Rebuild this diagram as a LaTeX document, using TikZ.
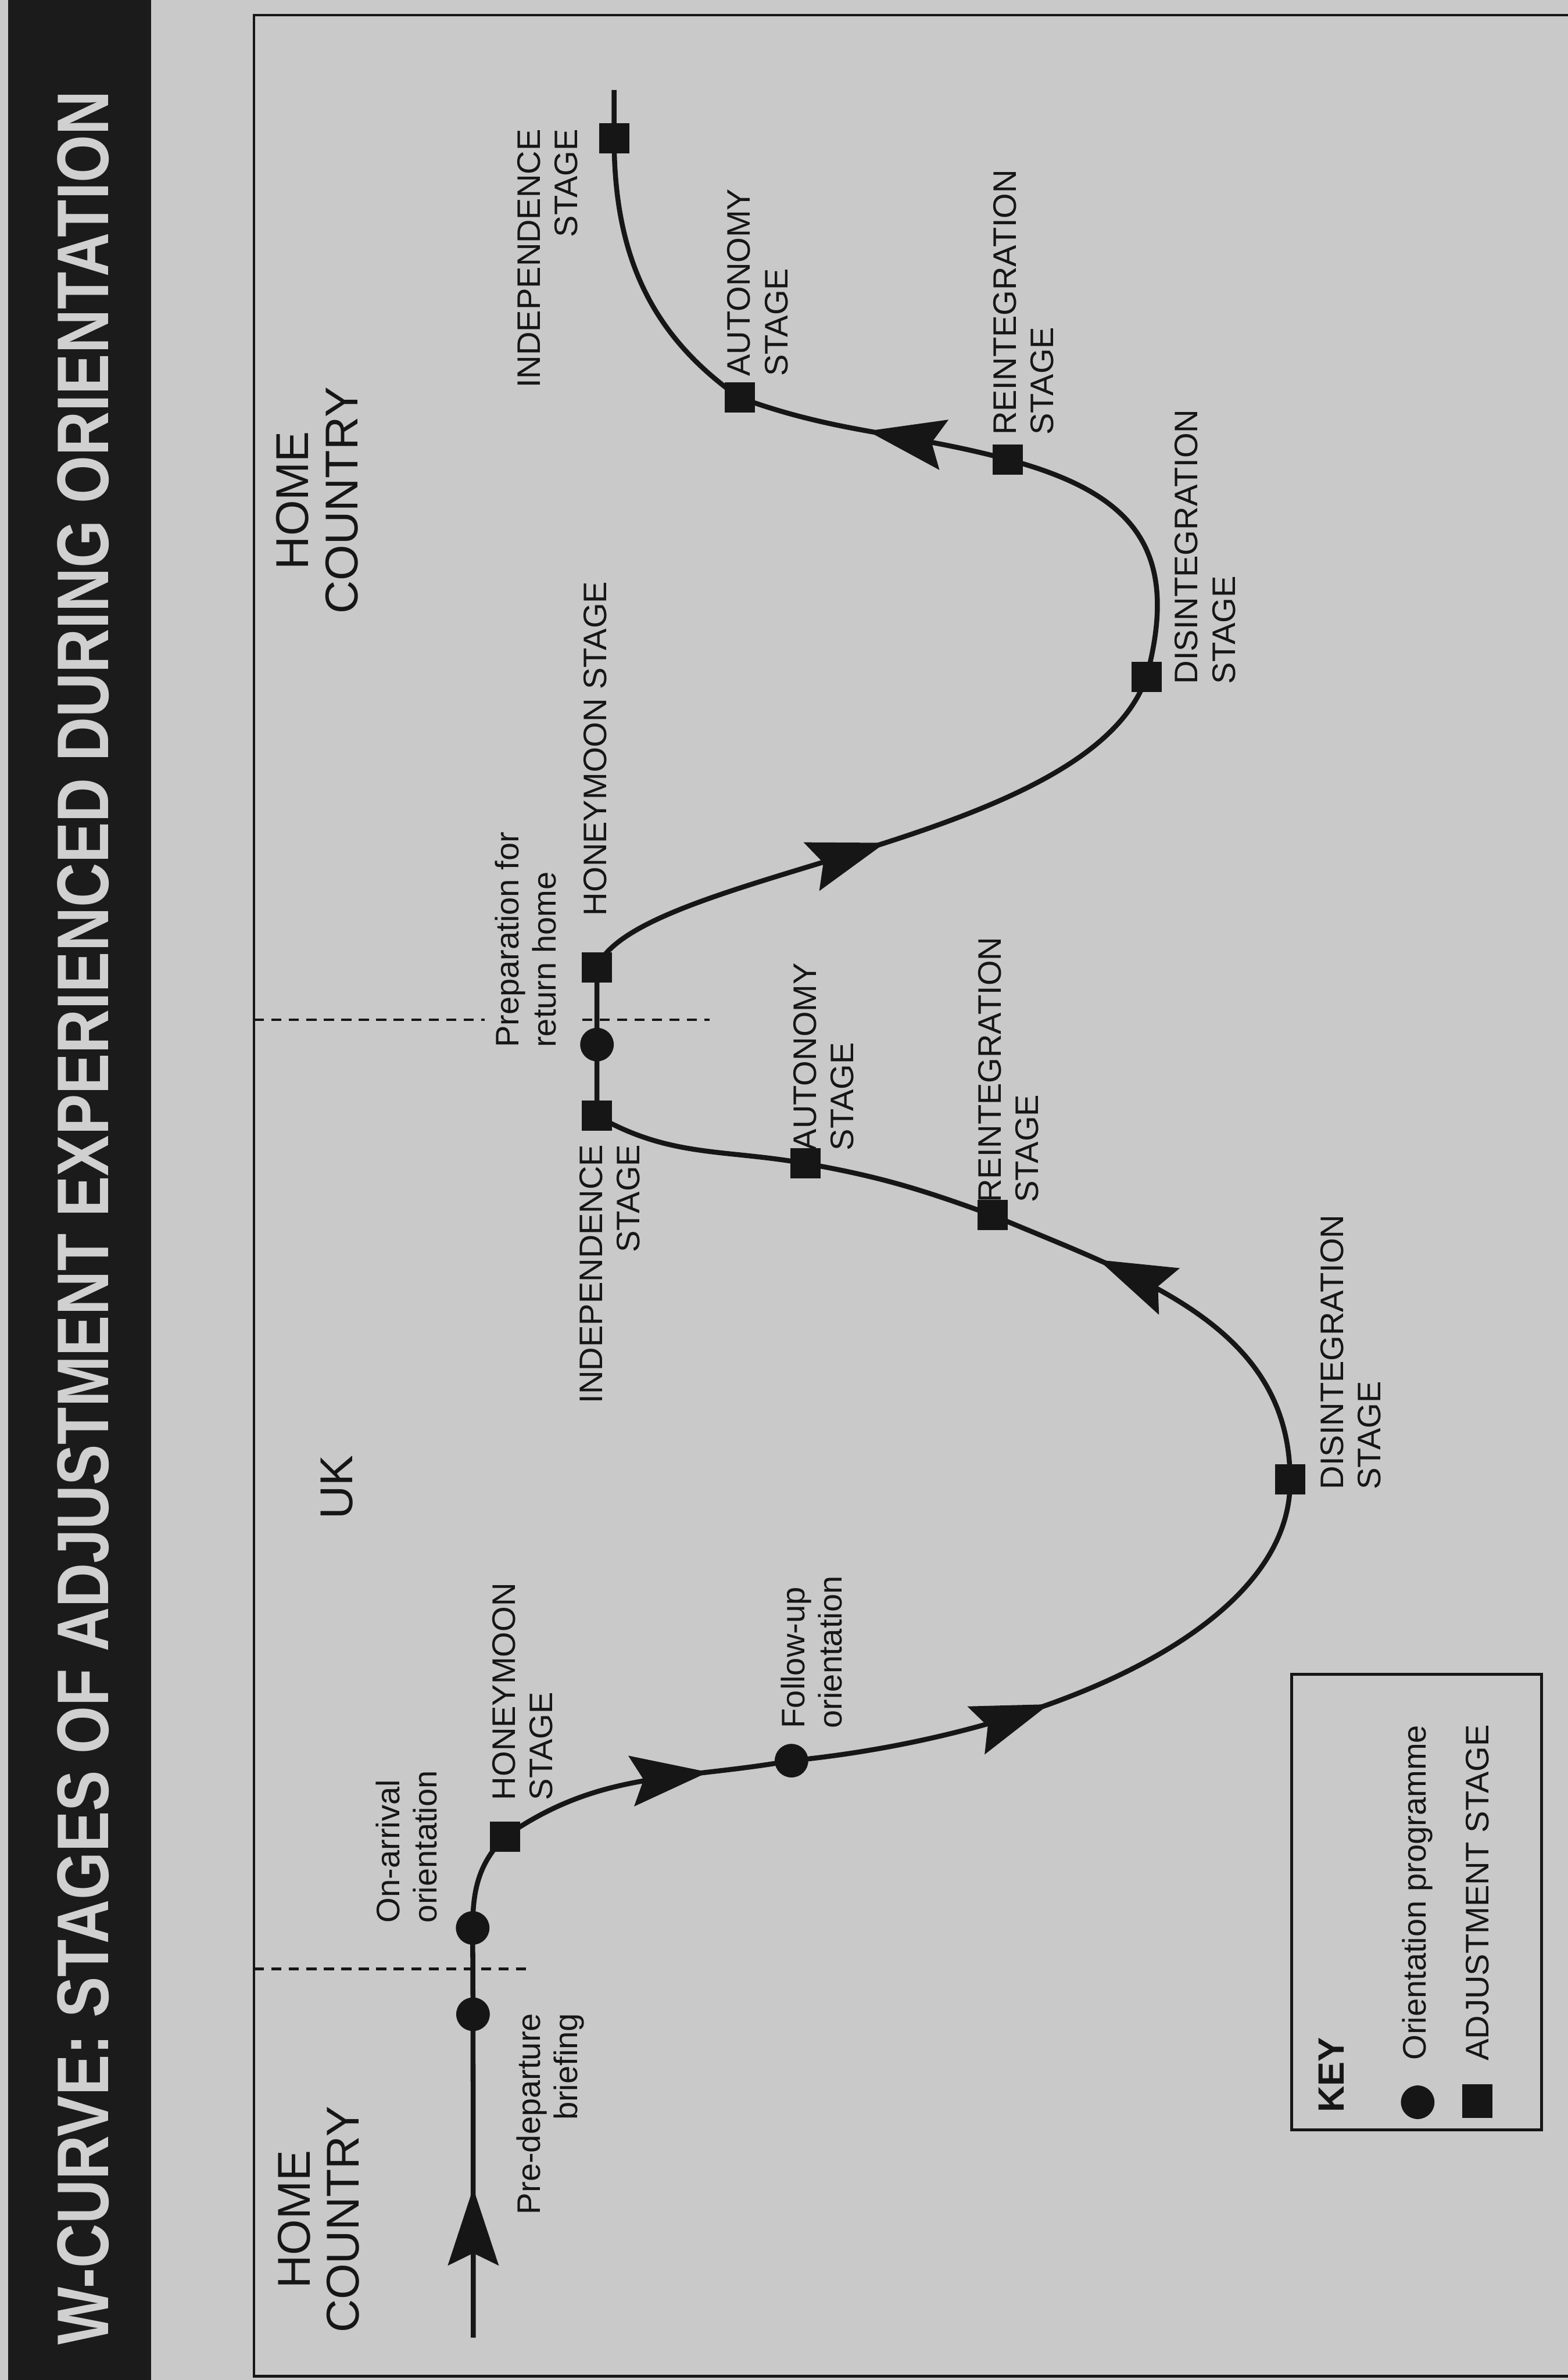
\documentclass[tikz,border=0pt]{standalone}
\usepackage{fontspec}
\setmainfont{Liberation Sans}
\usepackage{xcolor}
\usepackage{graphicx}
\usepackage{tikz}
\usetikzlibrary{arrows.meta,decorations.markings,positioning}

\definecolor{paper}{HTML}{C9C9C9}
\definecolor{ink}{HTML}{161616}
\definecolor{band}{HTML}{1B1B1B}
\definecolor{titleink}{HTML}{D0D0D0}

\begin{document}
\begin{tikzpicture}[>={Stealth[length=11.5mm,width=7.5mm,inset=1.8mm]},
  curve/.style={color=ink, line width=2.1pt},
  dot/.style={circle, fill=ink, inner sep=0pt, minimum size=5mm},
  stagebox/.style={rectangle, fill=ink, inner sep=0pt, minimum size=4.5mm},
  lbl/.style={rotate=90, inner sep=0pt, align=left, text=ink, font=\fontsize{13.8}{15.8}\selectfont},
  region/.style={rotate=90, inner sep=0pt, align=center, text=ink, font=\fontsize{19.5}{20.8}\selectfont},
  divide/.style={draw=ink, line width=1.1pt, dash pattern=on 1.5mm off 1.1mm},
  midarrow/.style={postaction={decorate}, decoration={markings, mark=at position #1 with {\arrow{>}}}}]

% page, title band and frame
\path[use as bounding box, fill=paper] (0,0) rectangle (23.335,-35.43);
\fill[band] (0.12,0) rectangle (2.25,-35.43);
\node[rotate=90, inner sep=0pt, text=titleink] (title) at (1.24,-18.13)
  {\resizebox{33.55cm}{0.76cm}{\bfseries W-CURVE: STAGES OF ADJUSTMENT EXPERIENCED DURING ORIENTATION}};
\draw[ink, line width=1.2pt] (23.335,-0.225) -- (3.78,-0.225) -- (3.78,-35.37) -- (23.335,-35.37);

% regions
\node[region] (home1) at (4.74,-33.04) {HOME\\COUNTRY};
\node[region] (uk) at (5.01,-22.14) {UK};
\node[region] (home2) at (4.72,-7.45) {HOME\\COUNTRY};

% border crossings
\coordinate (cut1w) at (3.78,-29.31);
\coordinate (cut1e) at (7.925,-29.31);
\coordinate (cut2w) at (3.78,-15.18);
\coordinate (cut2m) at (7.215,-15.18);
\coordinate (cut2n) at (8.665,-15.18);
\coordinate (cut2e) at (10.56,-15.18);
\draw[divide] (cut1w) -- (cut1e);
\draw[divide] (cut2w) -- (cut2m);
\draw[divide] (cut2n) -- (cut2e);

% orientation programmes and adjustment stages
\coordinate (start) at (7.045,-34.80);
\node[dot] (pd) at (7.04,-29.985) {};
\node[dot] (oa) at (7.035,-28.70) {};
\node[stagebox] (hm1) at (7.52,-27.34) {};
\node[dot] (fu) at (11.78,-26.21) {};
\node[stagebox] (d1) at (19.20,-22.02) {};
\node[stagebox] (r1) at (14.77,-18.09) {};
\node[stagebox] (a1) at (11.99,-17.32) {};
\node[stagebox] (i1) at (8.885,-16.61) {};
\node[dot] (pr) at (8.885,-15.55) {};
\node[stagebox] (h2) at (8.885,-14.40) {};
\node[stagebox] (d2) at (17.065,-10.075) {};
\node[stagebox] (r2) at (15.00,-6.84) {};
\node[stagebox] (a2) at (11.01,-5.92) {};
\node[stagebox] (i2) at (9.14,-2.055) {};
\coordinate (finish) at (9.14,-1.34);

% the W curve
\draw[curve, midarrow=0.463] (start) -- (pd.center);
\draw[curve] (pd.center) -- (oa.center) to[out=90,in=225] (hm1.center);
\draw[curve, midarrow=0.72] (hm1.center) to[out=35,in=190] (fu.center);
\draw[curve, midarrow=0.43] (fu.center) .. controls +(3.62,0.36) and +(0.05,-2.28) .. (d1.center);
\draw[curve, midarrow=0.73] (d1.center) to[out=90,in=-23] (r1.center);
\draw[curve] (r1.center) to[out=160,in=-10] (a1.center) to[out=170,in=-30] (i1.center)
  -- (pr.center) -- (h2.center);
\draw[curve, midarrow=0.5] (h2.center) .. controls +(0.615,1.45) and +(-0.865,-2.525) .. (d2.center);
\draw[curve] (d2.center) to[out=75,in=-15,looseness=1.3] (r2.center);
\draw[curve, midarrow=0.52] (r2.center) to[out=165,in=-20] (a2.center);
\draw[curve] (a2.center) to[out=145,in=-90] (i2.center) -- (finish);

% labels
\node[lbl, anchor=north east, align=right] (pdtext) at (7.68,-29.965) {Pre-departure\\briefing};
\node[lbl, anchor=north west] (oatext) at (5.59,-28.63) {On-arrival\\orientation};
\node[lbl, anchor=north west] (hm1text) at (7.32,-26.805) {HONEYMOON\\STAGE};
\node[lbl, anchor=north west] (futext) at (11.615,-25.735) {Follow-up\\orientation};
\node[lbl, anchor=north west] (d1text) at (19.645,-22.18) {DISINTEGRATION\\STAGE};
\node[lbl, anchor=north west] (r1text) at (14.55,-17.91) {REINTEGRATION\\STAGE};
\node[lbl, anchor=north west] (a1text) at (11.80,-17.135) {AUTONOMY\\STAGE};
\node[lbl, anchor=north east, align=right] (i1text) at (8.62,-17.03) {INDEPENDENCE\\STAGE};
\node[lbl, anchor=north west] (prtext) at (7.36,-15.60) {Preparation for\\return home};
\node[lbl, anchor=north west] (h2text) at (8.68,-13.64) {HONEYMOON STAGE};
\node[lbl, anchor=north west] (d2text) at (17.48,-10.19) {DISINTEGRATION\\STAGE};
\node[lbl, anchor=north west] (r2text) at (14.775,-6.485) {REINTEGRATION\\STAGE};
\node[lbl, anchor=north west] (a2text) at (10.82,-5.61) {AUTONOMY\\STAGE};
\node[lbl, anchor=north east, align=right] (i2text) at (7.69,-1.915) {INDEPENDENCE\\STAGE};

% key
\draw[ink, line width=1.2pt] (19.225,-24.925) rectangle (22.94,-31.705);
\node[lbl, anchor=north west, font=\fontsize{15.5}{17}\selectfont\bfseries] (keyhead) at (19.625,-31.455) {KEY};
\node[dot] (keydot) at (21.10,-31.295) {};
\node[stagebox, minimum width=4.5mm, minimum height=5mm] (keybox) at (21.99,-31.275) {};
\node[lbl, above=6.2mm of keydot.center, anchor=west] (keyorient) {Orientation programme};
\node[lbl, above=5.9mm of keybox.center, anchor=west] (keystage) {ADJUSTMENT STAGE};
\end{tikzpicture}
\end{document}
